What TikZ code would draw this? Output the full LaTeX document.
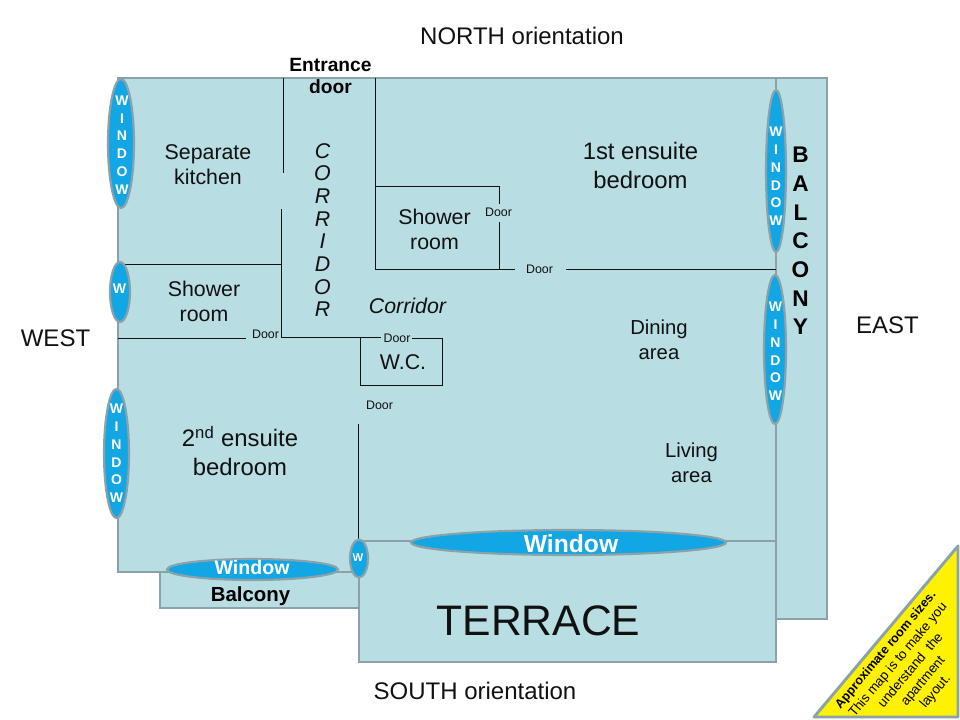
\documentclass[tikz,border=0pt]{standalone}
\usepackage{fontspec}
\usetikzlibrary{shapes.geometric}
\setmainfont{Liberation Sans}
\definecolor{roomfill}{HTML}{B8DDE3}
\definecolor{wallgrey}{HTML}{8BA3A8}
\definecolor{winblue}{HTML}{12A6E4}
\definecolor{inkdark}{HTML}{111111}
\newcommand{\fs}[1]{\fontsize{#1}{#1}\selectfont}
\tikzset{
  room/.style={fill=roomfill,draw=wallgrey,line width=2.2pt,line join=miter},
  partition/.style={draw=inkdark,line width=0.7pt},
  win/.style={ellipse,fill=winblue,draw=wallgrey,line width=1.6pt,inner sep=0pt,minimum width=#1},
  wintext/.style={text=white,font=\bfseries,inner sep=0pt,align=center},
  lab/.style={text=inkdark,inner sep=0pt,align=center,font=\fs{16}},
  doorlab/.style={text=inkdark,inner sep=0pt,font=\fs{9.3}},
}
\begin{document}
\begin{tikzpicture}[x=0.75pt,y=-0.75pt]
\useasboundingbox (0,0) rectangle (960,720);
% outer shapes
\draw[room] (776,78) -- (827,78) -- (827,619) -- (776,619) -- cycle;
\draw[room] (160,572) -- (359,572) -- (359,608) -- (160,608) -- cycle;
\draw[room] (359,541) -- (776,541) -- (776,662) -- (359,662) -- cycle;
\draw[room] (118,78) -- (776,78) -- (776,541) -- (359,541) -- (359,572) -- (118,572) -- cycle;
% partitions
\draw[partition] (283,78) -- (283,173);
\draw[partition] (281,209) -- (281,337.5) -- (381,337.5);
\draw[partition] (375,78) -- (375,269) -- (515,269);
\draw[partition] (566,269) -- (776,269);
\draw[partition] (375,186) -- (499.5,186) -- (499.5,204);
\draw[partition] (499.5,222) -- (499.5,269);
\draw[partition] (124,264.5) -- (281,264.5);
\draw[partition] (118,338.5) -- (246,338.5);
\draw[partition] (412,338) -- (442.5,338) -- (442.5,385) -- (360,385) -- (360,337.5);
\draw[partition] (358,424) -- (358,541);
% windows
\node[win=19.5pt,minimum height=96.75pt] (w1) at (121,143.5) {};
\node[win=15pt,minimum height=45pt] (w2) at (120,292) {};
\node[win=18.75pt,minimum height=96.75pt] (w3) at (116.5,453.5) {};
\node[win=15pt,minimum height=121.5pt] (w4) at (776,171) {};
\node[win=16.5pt,minimum height=111.75pt] (w5) at (775,349.5) {};
\node[win=236.25pt,minimum height=18.75pt] (w6) at (568.5,542.5) {};
\node[win=128.25pt,minimum height=15.75pt] (w7) at (252.5,569.5) {};
\node[win=13.5pt,minimum height=28.5pt] (w8) at (359,558.5) {};
\node[wintext,font=\bfseries\fs{10.5}] (t1) at (122,145) {W\\[2.8pt]I\\[2.8pt]N\\[2.8pt]D\\[2.8pt]O\\[2.8pt]W};
\node[wintext,font=\bfseries\fs{10.5}] (t2) at (119.5,289) {W};
\node[wintext,font=\bfseries\fs{10.5}] (t3) at (116.5,453.5) {W\\[2.8pt]I\\[2.8pt]N\\[2.8pt]D\\[2.8pt]O\\[2.8pt]W};
\node[wintext,font=\bfseries\fs{10.5}] (t4) at (776,176.5) {W\\[2.8pt]I\\[2.8pt]N\\[2.8pt]D\\[2.8pt]O\\[2.8pt]W};
\node[wintext,font=\bfseries\fs{10.5}] (t5) at (775.5,351.5) {W\\[2.8pt]I\\[2.8pt]N\\[2.8pt]D\\[2.8pt]O\\[2.8pt]W};
\node[wintext,font=\bfseries\fs{18.5}] (t6) at (571,544) {Window};
\node[wintext,font=\bfseries\fs{14.7}] (t7) at (252,567.5) {Window};
\node[wintext,font=\bfseries\fs{8.5}] (t8) at (358,558) {W};
% orientation
\node[lab,font=\fs{18}] (north) at (522,36) {NORTH orientation};
\node[lab,font=\fs{18}] (south) at (475,691) {SOUTH orientation};
\node[lab,font=\fs{18}] (west) at (55.5,338) {WEST};
\node[lab,font=\fs{18}] (east) at (887.5,325) {EAST};
% rooms
\node[lab,font=\bfseries\fs{14.4},text=black] (entr) at (330.5,75.5) {Entrance\\[2.1pt]door};
\node[lab] (kitchen) at (208,165) {Separate\\[2.75pt]kitchen};
\node[lab,font=\itshape\fs{16}] (corr) at (322.5,230) {C\\[1pt]O\\[1pt]R\\[1pt]R\\[1pt]I\\[1pt]D\\[1pt]O\\[1pt]R};
\node[lab] (sh1) at (204,301.5) {Shower\\[2.75pt]room};
\node[lab,font=\itshape\fs{16}] (corr2) at (407.5,306) {Corridor};
\node[lab] (sh2) at (434.5,229.5) {Shower\\[2.75pt]room};
\node[lab,font=\fs{17.9}] (bed1) at (640.5,165.5) {1st ensuite\\[3.85pt]bedroom};
\node[lab,font=\fs{17.9}] (bed2) at (240,451) {2\textsuperscript{nd} ensuite\\[3.85pt]bedroom};
\node[lab] (wc) at (403,362.5) {W.C.};
\node[lab,font=\fs{15.2}] (dining) at (659,339.5) {Dining\\[3.5pt]area};
\node[lab,font=\fs{15.2}] (living) at (691.5,462.5) {Living\\[3.5pt]area};
\node[lab,font=\bfseries\fs{17},text=black] (bal1) at (800.5,241) {B\\[4.5pt]A\\[4.5pt]L\\[4.5pt]C\\[4.5pt]O\\[4.5pt]N\\[4.5pt]Y};
\node[lab,font=\bfseries\fs{15.3},text=black] (bal2) at (250.5,596) {Balcony};
\node[lab,font=\fs{32}] (terr) at (538.5,620.5) {TERRACE};
% doors
\node[doorlab] (d1) at (265.5,334.5) {Door};
\node[doorlab] (d2) at (397,338.5) {Door};
\node[doorlab] (d3) at (379.5,405.5) {Door};
\node[doorlab] (d4) at (498.5,212.5) {Door};
\node[doorlab] (d5) at (539.5,269.5) {Door};
% note
\draw[fill=yellow,draw=wallgrey,line width=2.2pt,line join=round] (958,546) -- (958,717) -- (814,717) -- cycle;
\node[inner sep=0pt,align=center,rotate=50,font=\fs{10},text=black] (note) at (911,671) {\fs{9.4}\textbf{Approximate room sizes.}\\[2.2pt]This map is to make you\\[2.2pt]understand\hspace{3pt} the\\[2.2pt]apartment\\[2.2pt]layout.};
\end{tikzpicture}
\end{document}
